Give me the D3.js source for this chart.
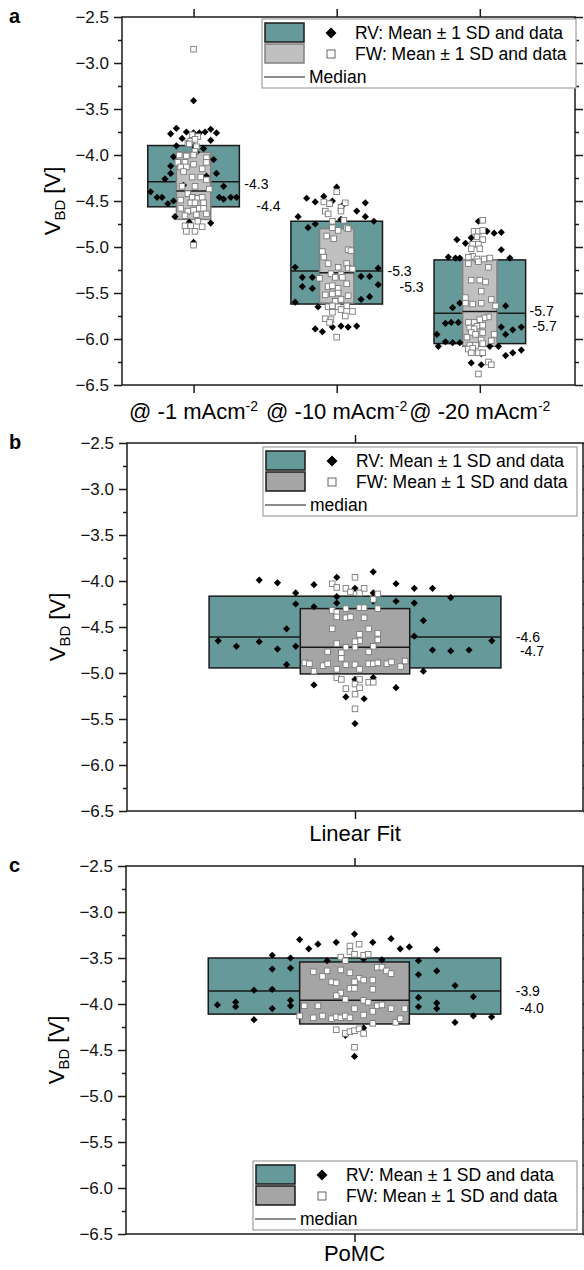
<!DOCTYPE html>
<meta charset="utf-8">
<head>
<style>
body{margin:0;background:#fff;}
svg{display:block;font-family:"Liberation Sans",Arial,sans-serif;}
</style>
</head>
<body>
<div id="chart"></div>
<script src="https://d3js.org/d3.v7.min.js"></script>
<script>

// ---- data ----
var yTicks = [-2.5, -3, -3.5, -4, -4.5, -5, -5.5, -6, -6.5];

var catsA = ["@ -1 mAcm", "@ -10 mAcm", "@ -20 mAcm"];
var catsB = ["Linear Fit"];
var catsC = ["PoMC"];

// mean ± 1 SD boxes and medians
var rvMeanA = [-4.23, -5.17, -5.595], rvSdA = [0.333, 0.45, 0.455], rvMedA = [-4.29, -5.26, -5.72];
var fwMeanA = [-4.335, -5.205, -5.61], fwSdA = [0.365, 0.405, 0.47], fwMedA = [-4.39, -5.28, -5.70];
var rvMeanB = [-4.555], rvSdB = [0.39], rvMedB = [-4.61];
var fwMeanB = [-4.655], fwSdB = [0.355], fwMedB = [-4.72];
var rvMeanC = [-3.805], rvSdC = [0.305], rvMedC = [-3.86];
var fwMeanC = [-3.88], fwSdC = [0.337], fwMedC = [-3.96];

// single points: [jitter (category units), V_BD]
var rvPtsA = [
  [[0,-3.41],[-0.12,-3.71],[0.12,-3.72],[-0.16,-3.77],[-0.05,-3.75],[0,-3.76],[0.04,-3.76],[0.08,-3.75],[0.16,-3.76],
   [-0.08,-3.82],[0.12,-3.84],[-0.12,-3.90],[0,-3.90],[0.07,-3.93],[-0.14,-4.02],[0.14,-4.05],[0.02,-3.97],[-0.16,-4.12],
   [0.16,-4.20],[-0.16,-4.20],[-0.20,-4.26],[0.21,-4.34],[-0.30,-4.40],[-0.255,-4.46],[-0.22,-4.46],[-0.14,-4.50],
   [-0.18,-4.53],[0.18,-4.46],[0.21,-4.48],[0.26,-4.46],[0.30,-4.46],[-0.13,-4.67],[-0.03,-4.73],[0.12,-4.74],[0,-4.95],
   [-0.07,-4.33],[0.09,-4.23]],
  [[0,-4.35],[-0.21,-4.47],[-0.15,-4.51],[-0.09,-4.45],[-0.03,-4.50],[0.04,-4.55],[0.20,-4.52],[0.14,-4.61],[0.20,-4.67],
   [0.26,-4.72],[-0.27,-4.67],[-0.20,-4.79],[-0.15,-4.75],[0.03,-4.70],[-0.29,-5.22],[0.29,-5.23],[-0.24,-5.33],[-0.17,-5.33],
   [-0.24,-5.43],[-0.17,-5.45],[0.17,-5.32],[0.23,-5.32],[0.29,-5.41],[-0.29,-5.60],[0.23,-5.54],[0.17,-5.57],[-0.13,-5.65],
   [-0.15,-5.89],[-0.10,-5.92],[-0.03,-5.87],[0.03,-5.86],[0.08,-5.87],[0.14,-5.86]],
  [[-0.01,-4.72],[0.05,-4.83],[0.10,-4.85],[0.15,-4.84],[-0.16,-4.92],[-0.10,-4.96],[-0.06,-4.90],[0.15,-5.03],[-0.22,-5.11],
   [-0.17,-5.12],[-0.14,-5.12],[0.21,-5.12],[-0.19,-5.66],[-0.14,-5.61],[0.18,-5.64],[-0.24,-5.83],[-0.20,-5.82],[-0.15,-5.82],
   [0.15,-5.87],[-0.30,-5.95],[0.18,-5.95],[0.23,-5.90],[0.29,-5.87],[-0.29,-6.08],[-0.24,-6.03],[-0.19,-6.04],[-0.14,-6.04],
   [0.07,-6.08],[0.13,-6.08],[0.18,-6.18],[0.23,-6.15],[0.29,-6.12],[0.01,-6.16],[-0.06,-6.26],[0.01,-6.28]]
];
var fwPtsA = [
  [[0,-2.85],[-0.01,-3.78],[0.03,-3.80],[-0.04,-3.87],[-0.02,-3.85],[0.01,-3.83],[-0.03,-3.88],[0.02,-3.91],[0.01,-3.96],
   [-0.10,-4.00],[-0.05,-4.01],[0,-4.00],[0.09,-4.03],[-0.11,-4.08],[-0.06,-4.08],[0,-4.10],[0.09,-4.08],[-0.09,-4.13],
   [-0.05,-4.13],[-0.07,-4.18],[0.06,-4.15],[-0.01,-4.24],[0.05,-4.24],[0.09,-4.27],[-0.08,-4.34],[0.01,-4.34],[0.11,-4.37],
   [-0.04,-4.42],[-0.01,-4.46],[0.03,-4.47],[0.06,-4.46],[-0.09,-4.49],[-0.02,-4.52],[0.01,-4.52],[0.07,-4.52],[-0.09,-4.58],
   [-0.04,-4.61],[0,-4.60],[0.04,-4.58],[0.07,-4.58],[-0.06,-4.66],[0.02,-4.65],[0.09,-4.64],[0.03,-4.72],[-0.06,-4.77],
   [-0.02,-4.77],[0.06,-4.78],[-0.05,-4.83],[0.01,-4.83],[0,-4.98]],
  [[0,-4.40],[-0.09,-4.51],[-0.05,-4.53],[0.03,-4.57],[0.06,-4.52],[0.03,-4.61],[-0.08,-4.61],[-0.06,-4.64],[-0.03,-4.72],
   [0.05,-4.71],[-0.03,-4.79],[0.01,-4.82],[0.07,-4.79],[0.08,-4.80],[-0.07,-4.88],[-0.02,-4.91],[0.08,-5.03],[0.10,-5.04],
   [-0.10,-5.05],[-0.09,-5.11],[-0.06,-5.18],[0.01,-5.22],[0.07,-5.18],[0.08,-5.23],[0.11,-5.24],[-0.12,-5.34],[-0.04,-5.29],
   [-0.01,-5.33],[0.03,-5.30],[0.04,-5.33],[-0.06,-5.43],[-0.03,-5.42],[0.01,-5.45],[0.07,-5.40],[-0.08,-5.52],[-0.03,-5.51],
   [0.01,-5.50],[0.08,-5.53],[-0.01,-5.59],[0.03,-5.57],[-0.06,-5.65],[-0.03,-5.64],[0.01,-5.65],[0.07,-5.64],[-0.03,-5.71],
   [0.03,-5.68],[0.11,-5.70],[0.06,-5.75],[-0.08,-5.78],[-0.04,-5.79],[-0.05,-5.82],[0,-5.98]],
  [[0.02,-4.71],[-0.04,-4.83],[-0.01,-4.83],[0.02,-4.82],[-0.02,-4.89],[0.02,-4.92],[-0.05,-4.97],[-0.01,-4.97],[-0.06,-5.02],
   [0,-5.02],[-0.05,-5.10],[-0.08,-5.11],[-0.02,-5.13],[0.03,-5.13],[0.07,-5.12],[-0.08,-5.18],[-0.01,-5.16],[0.06,-5.22],
   [-0.06,-5.36],[0,-5.36],[0.04,-5.38],[0.01,-5.48],[-0.10,-5.55],[0.08,-5.57],[-0.10,-5.61],[-0.05,-5.62],[0.01,-5.61],
   [0.11,-5.64],[0.06,-5.76],[0.03,-5.77],[0,-5.79],[-0.04,-5.82],[-0.08,-5.82],[-0.02,-5.86],[-0.07,-5.88],[0.02,-5.85],
   [-0.04,-5.89],[-0.06,-5.93],[0.02,-5.93],[-0.03,-5.95],[0.10,-5.95],[-0.09,-5.98],[0.01,-6.01],[0.08,-6.02],[-0.07,-6.07],
   [-0.03,-6.07],[0.02,-6.05],[-0.08,-6.11],[-0.05,-6.10],[-0.01,-6.15],[-0.06,-6.15],[0.02,-6.15],[0.06,-6.25],[0.08,-6.28],
   [-0.01,-6.38]]
];
var rvPtsB = [
  [[-0.21,-3.99],[-0.17,-4.02],[-0.09,-4.04],[-0.04,-3.96],[0.04,-3.90],[0.09,-4.03],[0.13,-4.08],[0.17,-4.08],[-0.13,-4.13],
   [-0.04,-4.17],[0.04,-4.13],[-0.13,-4.25],[-0.09,-4.28],[-0.04,-4.24],[0.04,-4.22],[0.09,-4.22],[0.13,-4.24],[0.21,-4.18],
   [0,-4.08],[0.15,-4.43],[-0.15,-4.52],[0.13,-4.60],[-0.30,-4.65],[-0.26,-4.71],[-0.21,-4.66],[-0.17,-4.74],[-0.13,-4.71],
   [0.17,-4.75],[0.21,-4.76],[0.25,-4.75],[0.30,-4.65],[-0.15,-4.91],[0.15,-4.98],[-0.09,-5.13],[0.09,-5.16],[-0.02,-5.26],
   [0.02,-5.28],[0,-5.07],[0.04,-5.05],[0,-5.55]]
];
var fwPtsB = [
  [[0,-3.96],[-0.05,-4.03],[-0.04,-4.07],[-0.02,-4.08],[-0.01,-4.12],[0.01,-4.13],[0.02,-4.08],[0.04,-4.20],[0.05,-4.14],
   [-0.05,-4.32],[-0.04,-4.34],[-0.02,-4.30],[0.01,-4.29],[0.02,-4.29],[0.05,-4.30],[-0.04,-4.39],[-0.02,-4.40],[-0.01,-4.39],
   [0.02,-4.40],[-0.05,-4.52],[0.03,-4.52],[0.05,-4.57],[0.01,-4.58],[0.01,-4.65],[0.05,-4.64],[0,-4.66],[-0.04,-4.68],
   [-0.02,-4.72],[0,-4.72],[0.04,-4.71],[-0.06,-4.77],[-0.03,-4.78],[0.03,-4.77],[-0.03,-4.84],[-0.11,-4.89],[-0.10,-4.90],
   [-0.07,-4.92],[-0.06,-4.90],[-0.04,-4.96],[-0.02,-4.91],[0,-4.91],[0.01,-4.96],[0.03,-4.90],[0.04,-4.90],[0.05,-4.89],
   [0.07,-4.90],[0.08,-4.88],[0.10,-4.93],[0.11,-4.87],[-0.09,-4.98],[-0.04,-5.05],[-0.03,-5.07],[0.01,-5.07],[0.03,-5.10],
   [0.04,-5.10],[-0.02,-5.17],[0,-5.12],[0,-5.23],[0.01,-5.16],[0,-5.39]]
];
var rvPtsC = [
  [[0,-3.24],[-0.12,-3.30],[-0.08,-3.35],[-0.04,-3.33],[0.04,-3.33],[0.08,-3.29],[-0.10,-3.40],[0.10,-3.40],[0.12,-3.38],
   [-0.18,-3.47],[-0.14,-3.50],[-0.06,-3.53],[0.02,-3.51],[0.06,-3.52],[0.14,-3.53],[0.18,-3.41],[-0.18,-3.62],[-0.14,-3.61],
   [0.14,-3.68],[0.18,-3.64],[-0.22,-3.85],[-0.18,-3.84],[0.22,-3.80],[-0.26,-3.98],[-0.26,-4.03],[-0.30,-4.01],[-0.14,-3.96],
   [-0.14,-4.02],[-0.18,-4.05],[0.14,-3.93],[0.14,-4.03],[0.18,-3.99],[0.18,-4.05],[0.26,-3.92],[-0.22,-4.17],[0.22,-4.20],
   [0.26,-4.13],[0.30,-4.14],[0.02,-4.26],[-0.02,-4.34],[0,-4.57]]
];
var fwPtsC = [
  [[-0.01,-3.37],[0.01,-3.35],[-0.01,-3.43],[0,-3.46],[0.02,-3.47],[0.03,-3.46],[-0.03,-3.49],[-0.02,-3.53],[0.05,-3.60],
   [0.06,-3.60],[0.07,-3.64],[0.08,-3.67],[-0.09,-3.65],[-0.07,-3.70],[-0.06,-3.64],[-0.03,-3.63],[-0.01,-3.66],[0.01,-3.72],
   [-0.05,-3.76],[-0.04,-3.77],[0,-3.76],[0.02,-3.74],[0.04,-3.74],[-0.01,-3.83],[0,-3.83],[0.04,-3.84],[-0.03,-3.88],
   [-0.04,-3.91],[-0.02,-3.95],[0.02,-3.96],[0.03,-3.98],[-0.11,-4.02],[-0.08,-4.02],[0.05,-4.02],[0.06,-4.01],[0.08,-4.05],
   [0,-4.05],[0.11,-4.05],[0.04,-4.08],[-0.12,-4.13],[-0.09,-4.15],[-0.07,-4.13],[-0.05,-4.16],[-0.04,-4.14],[-0.03,-4.15],
   [-0.02,-4.13],[-0.01,-4.15],[0.02,-4.12],[0.04,-4.21],[0.09,-4.20],[0.10,-4.16],[-0.04,-4.28],[-0.02,-4.32],[-0.01,-4.30],
   [0,-4.29],[0.01,-4.27],[0.02,-4.32],[0,-4.47]]
];

// ---- layout ----
var teal = "#669999";
var ink = "#1a1a1a";
var rvWidth = 0.64, fwWidth = 0.24;

var panels = [
  {id: "a", cats: catsA, sup: "-2", left: 122, right: 575, top: 17, bottom: 385, xDomain: [0.5, 3.665],
   rvMean: rvMeanA, rvSd: rvSdA, rvMed: rvMedA, fwMean: fwMeanA, fwSd: fwSdA, fwMed: fwMedA,
   rvPts: rvPtsA, fwPts: fwPtsA, fwFill: "#c0c0c0", fwStroke: "#808080", medText: "Median",
   leg: {x: 262, y: 19, w: 314}, lblSize: 14, titleDy: 34,
   lblOff: [[5, 2, 17, 15], [5, 0, 17, 14], [4, -2, 7, 15]]},
  {id: "b", cats: catsB, left: 127, right: 583, top: 443, bottom: 811, xDomain: [0.5, 1.5],
   rvMean: rvMeanB, rvSd: rvSdB, rvMed: rvMedB, fwMean: fwMeanB, fwSd: fwSdB, fwMed: fwMedB,
   rvPts: rvPtsB, fwPts: fwPtsB, fwFill: "#a5a5a5", fwStroke: ink, medText: "median",
   leg: {x: 263, y: 447, w: 314}, lblSize: 14, titleDy: 30,
   lblOff: [[15, 0, 19, 4]]},
  {id: "c", cats: catsC, left: 126, right: 583, top: 866, bottom: 1234, xDomain: [0.5, 1.5],
   rvMean: rvMeanC, rvSd: rvSdC, rvMed: rvMedC, fwMean: fwMeanC, fwSd: fwSdC, fwMed: fwMedC,
   rvPts: rvPtsC, fwPts: fwPtsC, fwFill: "#a5a5a5", fwStroke: ink, medText: "median",
   leg: {x: 253, y: 1161, w: 324}, lblSize: 14, titleDy: 27,
   lblOff: [[15, 0, 19, 8]]}
];

var svg = d3.select("#chart").append("svg")
  .attr("width", 584)
  .attr("height", 1270);

var yMinor = yTicks.slice(1).map(function(t, i){ return (t + yTicks[i]) / 2; });
var fmt = d3.format(".1f");

function diamond(r){ return "M0," + (-r) + "L" + r + ",0L0," + r + "L" + (-r) + ",0Z"; }

function drawPanel(p){
  var g = svg.append("g").attr("class", "panel-" + p.id);
  var x = d3.scaleLinear().domain(p.xDomain).range([p.left, p.right]);
  var y = d3.scaleLinear().domain([-6.5, -2.5]).range([p.bottom, p.top]);
  var idx = p.cats.map(function(c, i){ return i + 1; });

  function box(cx, w, mean, sd, med, fill, stroke){
    g.append("rect")
      .attr("x", x(cx - w/2)).attr("width", x(cx + w/2) - x(cx - w/2))
      .attr("y", y(mean + sd)).attr("height", y(mean - sd) - y(mean + sd))
      .attr("fill", fill).attr("stroke", stroke).attr("stroke-width", 1.5);
    g.append("line")
      .attr("x1", x(cx - w/2)).attr("x2", x(cx + w/2))
      .attr("y1", y(med)).attr("y2", y(med))
      .attr("stroke", ink).attr("stroke-width", 1.5);
  }

  idx.forEach(function(cx, i){
    box(cx, rvWidth, p.rvMean[i], p.rvSd[i], p.rvMed[i], teal, ink);
    box(cx, fwWidth, p.fwMean[i], p.fwSd[i], p.fwMed[i], p.fwFill, p.fwStroke);
  });

  idx.forEach(function(cx, i){
    g.append("g").selectAll("path").data(p.rvPts[i]).enter().append("path")
      .attr("d", diamond(3.6))
      .attr("transform", function(d){ return "translate(" + x(cx + d[0]) + "," + y(d[1]) + ")"; })
      .attr("fill", "#000");
  });
  idx.forEach(function(cx, i){
    g.append("g").selectAll("rect").data(p.fwPts[i]).enter().append("rect")
      .attr("x", function(d){ return x(cx + d[0]) - 2.8; })
      .attr("y", function(d){ return y(d[1]) - 2.8; })
      .attr("width", 5.6).attr("height", 5.6)
      .attr("fill", "#fff").attr("stroke", "#7a7a7a").attr("stroke-width", 0.9);
  });

  // median labels
  idx.forEach(function(cx, i){
    var o = p.lblOff[i], xr = x(cx + rvWidth/2);
    g.append("text").attr("x", xr + o[0]).attr("y", y(p.rvMed[i]) + o[1])
      .attr("dy", "0.35em").style("font-size", p.lblSize + "px")
      .text(p.rvMed[i].toFixed(1));
    g.append("text").attr("x", xr + o[2]).attr("y", y(p.fwMed[i]) + o[3])
      .attr("dy", "0.35em").style("font-size", p.lblSize + "px")
      .text(p.fwMed[i].toFixed(1));
  });

  // frame
  g.append("rect")
    .attr("x", p.left).attr("y", p.top)
    .attr("width", p.right - p.left).attr("height", p.bottom - p.top)
    .attr("fill", "none").attr("stroke", ink).attr("stroke-width", 1.5);

  function axis(gen, tx, ty){
    var a = g.append("g").attr("transform", "translate(" + tx + "," + ty + ")").call(gen);
    a.select(".domain").remove();
    a.selectAll("line").attr("stroke", ink).attr("stroke-width", 1.5);
    a.selectAll("text").attr("fill", "#111").style("font-size", "17px")
      .style("font-family", "'Liberation Sans', Arial, sans-serif");
    return a;
  }
  axis(d3.axisLeft(y).tickValues(yTicks).tickSize(8).tickPadding(5).tickFormat(fmt), p.left, 0);
  axis(d3.axisLeft(y).tickValues(yMinor).tickSize(4).tickFormat(""), p.left, 0);
  axis(d3.axisRight(y).tickValues(yTicks).tickSize(8).tickFormat(""), p.right, 0);
  axis(d3.axisRight(y).tickValues(yMinor).tickSize(4).tickFormat(""), p.right, 0);
  axis(d3.axisTop(x).tickValues(idx).tickSize(8).tickFormat(""), 0, p.top);
  axis(d3.axisBottom(x).tickValues(idx).tickSize(8).tickFormat(""), 0, p.bottom);

  // category labels
  idx.forEach(function(cx, i){
    var t = g.append("text").attr("x", x(cx)).attr("y", p.bottom + p.titleDy)
      .attr("text-anchor", "middle").style("font-size", "22px").text(p.cats[i]);
    if (p.sup) t.append("tspan").attr("dy", -8).style("font-size", "14px").text(p.sup);
  });

  // y title
  var yt = g.append("text")
    .attr("transform", "translate(" + (p.left - 62) + "," + ((p.top + p.bottom) / 2) + ") rotate(-90)")
    .attr("text-anchor", "middle").style("font-size", "22px");
  yt.append("tspan").text("V");
  yt.append("tspan").attr("dy", 5).style("font-size", "15px").text("BD");
  yt.append("tspan").attr("dy", -5).text(" [V]");

  // panel letter
  g.append("text").attr("x", 9).attr("y", p.top + 6)
    .style("font-size", "20px").style("font-weight", "bold").text(p.id);

  // legend
  var L = p.leg.x, T = p.leg.y;
  var lg = g.append("g");
  lg.append("rect").attr("x", L).attr("y", T).attr("width", p.leg.w).attr("height", 69)
    .attr("fill", "#fff").attr("stroke", "#a0a0a0").attr("stroke-width", 1.2);
  lg.append("rect").attr("x", L + 3).attr("y", T + 4).attr("width", 39).attr("height", 19)
    .attr("fill", teal).attr("stroke", ink).attr("stroke-width", 1.5);
  lg.append("rect").attr("x", L + 3).attr("y", T + 25).attr("width", 39).attr("height", 19)
    .attr("fill", p.fwFill).attr("stroke", p.fwStroke).attr("stroke-width", 1.5);
  lg.append("line").attr("x1", L + 2).attr("x2", L + 43).attr("y1", T + 58).attr("y2", T + 58)
    .attr("stroke", ink).attr("stroke-width", 1.2);
  lg.append("path").attr("d", diamond(5.5)).attr("transform", "translate(" + (L + 69) + "," + (T + 14) + ")");
  lg.append("rect").attr("x", L + 65).attr("y", T + 31).attr("width", 8).attr("height", 8)
    .attr("fill", "#fff").attr("stroke", "#555").attr("stroke-width", 0.9);
  [["RV: Mean \u00b1 1 SD and data", L + 93, T + 14],
   ["FW: Mean \u00b1 1 SD and data", L + 93, T + 35],
   [p.medText, L + 47, T + 58]].forEach(function(r){
    lg.append("text").attr("x", r[1]).attr("y", r[2]).attr("dy", "0.35em")
      .style("font-size", "17.5px").text(r[0]);
  });
}

panels.forEach(drawPanel);

</script>
</body>
